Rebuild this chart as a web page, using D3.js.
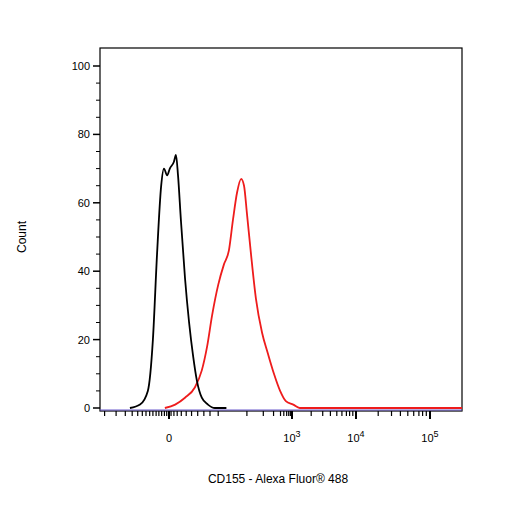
<!DOCTYPE html>
<html><head><meta charset="utf-8">
<script src="https://cdn.jsdelivr.net/npm/d3@7"></script>
<style>body{margin:0;background:#fff}svg{font-family:"Liberation Sans",Arial,sans-serif}</style>
</head><body><svg id="c" width="506" height="506"></svg>
<script>
// x in display units (0 = zero, 3 = 10^3, 4 = 10^4, 5 = 10^5)
const isotypeX = [-0.85,-0.63,-0.46,-0.35,-0.26,-0.17,-0.11,-0.04,0.02,0.12,0.17,0.22,0.29,0.39,0.49,0.59,0.68,0.8,0.95,1.12,1.4];
const isotypeY = [0,1,5,20,45,65,70,68,70,72,74,68,55,38,25,15,8,3,1,0,0];
const cd155X = [-0.09,0.15,0.39,0.63,0.8,0.93,1.05,1.2,1.34,1.46,1.56,1.66,1.76,1.83,1.9,2.0,2.12,2.27,2.41,2.56,2.71,2.85,3.02,3.12,5.45];
const cd155Y = [0,1,3,6,11,18,27,36,42,46,55,63,67,65,57,45,32,22,16,10,5,2,1,0,0];
const yTicks = [0,20,40,60,80,100];
const xMajor = [{u:0,b:"0",e:""},{u:3,b:"10",e:"3"},{u:4,b:"10",e:"4"},{u:5,b:"10",e:"5"}];
const xMinor = [-1.4,-1.15,-0.95,-0.8,-0.68,-0.58,-0.5,-0.42,-0.35,-0.28,-0.22,-0.16,-0.1,-0.05,0.05,0.12,0.2,0.3,0.42,0.55,0.7,0.85,1,1.2,1.9,2.3,2.55,2.72,2.8,2.87,2.92,2.96,3.3,3.48,3.6,3.7,3.78,3.85,3.9,3.95,4.3,4.48,4.6,4.7,4.78,4.85,4.9,4.95];

const svg = d3.select("#c");
const L=100,R=462,T=48,B=411;
const x = d3.scaleLinear().domain([-1.5,0,3,4,5,5.45]).range([L,169,292,356,430,R]);
const y = d3.scaleLinear().domain([0,100]).range([408,66]);

svg.append("rect").attr("x",L).attr("y",T).attr("width",R-L).attr("height",B-T).attr("fill","none").attr("stroke","#000").attr("stroke-width",1.2);
svg.append("line").attr("x1",L).attr("x2",R).attr("y1",B-1).attr("y2",B-1).attr("stroke","#6a5acd").attr("stroke-width",1);

// y axis
const ya = svg.append("g");
d3.range(0,101,5).forEach(v=>{
  const major = v%20===0;
  ya.append("line").attr("x1",L-(major?7:4)).attr("x2",L).attr("y1",y(v)).attr("y2",y(v)).attr("stroke","#000").attr("stroke-width",major?1.5:1);
});
yTicks.forEach(v=>ya.append("text").attr("x",L-10).attr("y",y(v)+4).attr("text-anchor","end").attr("font-size",11).text(v));

// x axis
const xa = svg.append("g");
xMinor.forEach(u=>xa.append("line").attr("x1",x(u)).attr("x2",x(u)).attr("y1",B).attr("y2",B+5).attr("stroke","#000").attr("stroke-width",1.2));
xMajor.forEach(t=>{
  xa.append("line").attr("x1",x(t.u)).attr("x2",x(t.u)).attr("y1",B).attr("y2",B+8).attr("stroke","#000").attr("stroke-width",2);
  const tx = xa.append("text").attr("x",x(t.u)).attr("y",B+31).attr("text-anchor","middle").attr("font-size",11);
  tx.append("tspan").text(t.b);
  if(t.e) tx.append("tspan").attr("dy",-5).attr("font-size",9).text(t.e);
});

const line = d3.line().x(d=>x(d[0])).y(d=>y(d[1])).curve(d3.curveMonotoneX);
svg.append("path").datum(cd155X.map((v,i)=>[v,cd155Y[i]])).attr("d",line).attr("fill","none").attr("stroke","#ee1c1c").attr("stroke-width",1.8);
svg.append("path").datum(isotypeX.map((v,i)=>[v,isotypeY[i]])).attr("d",line).attr("fill","none").attr("stroke","#000").attr("stroke-width",1.8);

svg.append("text").attr("transform","translate(26,237) rotate(-90)").attr("text-anchor","middle").attr("font-size",12).text("Count");
svg.append("text").attr("x",278).attr("y",483).attr("text-anchor","middle").attr("font-size",12).text("CD155 - Alexa Fluor® 488");
</script></body></html>
